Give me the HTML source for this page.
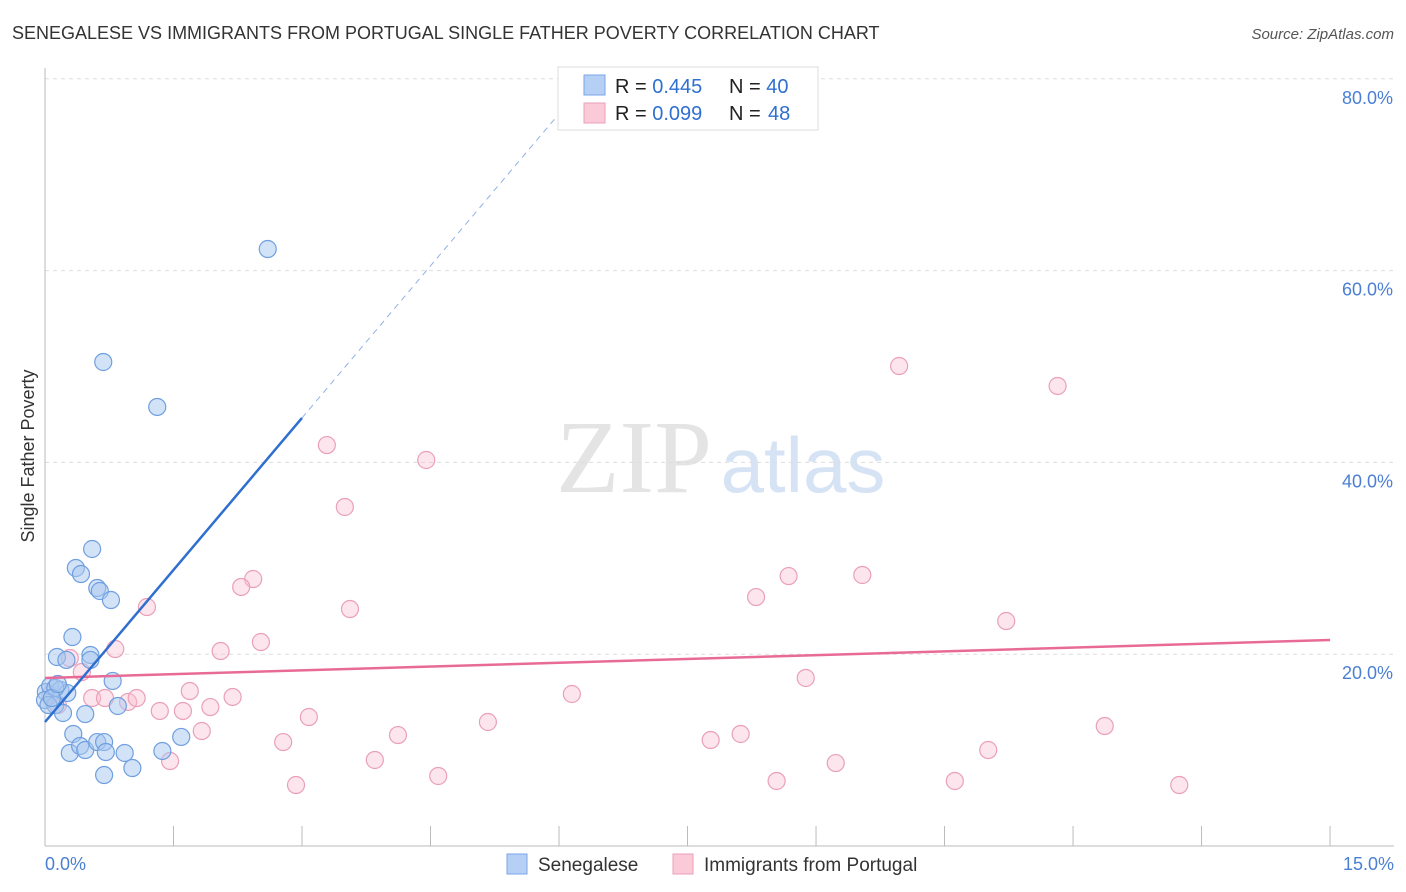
<!DOCTYPE html>
<html><head><meta charset="utf-8"><style>
body{margin:0;background:#fff;font-family:"Liberation Sans",sans-serif}
svg{display:block}
</style></head><body>
<svg width="1406" height="892">
<text x="12" y="39" font-size="18" fill="#333">SENEGALESE VS IMMIGRANTS FROM PORTUGAL SINGLE FATHER POVERTY CORRELATION CHART</text>
<text x="1394" y="39" font-size="15" fill="#555" font-style="italic" text-anchor="end">Source: ZipAtlas.com</text>
<g>
<text x="634" y="492" font-family="Liberation Serif" font-size="104" fill="#e4e4e4" text-anchor="middle">ZIP</text>
<text x="803" y="492" font-size="78" fill="#d6e3f5" text-anchor="middle">atlas</text>
</g>
<g id="grid"></g>
<g id="axes"></g>
<g id="marks"></g>
<text transform="translate(34,456) rotate(-90)" font-size="18" fill="#333" text-anchor="middle">Single Father Poverty</text>
<text x="45" y="870" font-size="18" fill="#4a7fd4">0.0%</text>
<text x="1394" y="870" font-size="18" fill="#4a7fd4" text-anchor="end">15.0%</text>
<g>
<rect x="558" y="67" width="260" height="63" fill="#fff" stroke="#ddd"/>
<rect x="584" y="75" width="21" height="20" fill="#b5cff5" stroke="#7aa6e6"/>
<rect x="584" y="103" width="21" height="20" fill="#fbcad8" stroke="#eaa0b8"/>
<text x="615" y="93" font-size="20" fill="#222">R = <tspan fill="#2f6fd0">0.445</tspan></text>
<text x="729" y="93" font-size="20" fill="#222">N = <tspan fill="#2f6fd0">40</tspan></text>
<text x="615" y="120" font-size="20" fill="#222">R = <tspan fill="#2f6fd0">0.099</tspan></text>
<text x="729" y="120" font-size="20" fill="#222">N = <tspan fill="#2f6fd0" x="768">48</tspan></text>
</g>
<g>
<rect x="507" y="854" width="20" height="20" fill="#b5cff5" stroke="#7aa6e6"/>
<text x="538" y="871" font-size="19" fill="#333">Senegalese</text>
<rect x="673" y="854" width="20" height="20" fill="#fbcad8" stroke="#eaa0b8"/>
<text x="704" y="871" font-size="19" fill="#333">Immigrants from Portugal</text>
</g>
</svg>
<script>
const yTicks=[20,40,60,80];
const yTickLabels=["20.0%","40.0%","60.0%","80.0%"];
const xTicks=[0,1.5,3,4.5,6,7.5,9,10.5,12,13.5,15];
const senX=[2.60,0.68,1.31,0.55,0.36,0.42,0.61,0.64,0.77,0.32,0.14,0.25,0.53,0.79,0.01,0.06,0.18,0.26,0.00,0.12,0.21,0.47,0.85,1.59,0.33,0.29,0.41,0.47,0.61,0.69,0.71,0.93,1.37,1.02,0.69,0.12,0.04,0.08,0.15,0.53];
const senY=[62.25,50.47,45.78,30.97,28.99,28.36,26.90,26.59,25.65,21.79,19.71,19.40,19.92,17.21,16.06,16.68,16.27,15.95,15.22,14.70,13.87,13.76,14.60,11.37,11.68,9.70,10.43,10.01,10.84,10.84,9.80,9.70,9.91,8.13,7.40,16.48,14.70,15.43,16.89,19.40];
const porX=[9.97,11.82,3.29,4.45,3.50,2.43,2.29,3.56,1.19,8.68,9.54,8.30,11.22,2.52,2.05,0.82,0.29,0.43,1.69,0.55,0.70,0.97,1.07,2.19,1.34,1.61,1.93,6.15,8.88,1.83,3.08,5.17,12.37,2.78,4.12,7.77,8.12,11.01,3.85,1.46,9.23,4.59,2.93,8.54,10.62,13.24,0.15,0.06];
const porY=[50.05,47.97,41.81,40.25,35.35,27.84,27.01,24.71,24.92,28.15,28.26,25.96,23.46,21.27,20.33,20.54,19.60,18.14,16.16,15.43,15.43,15.02,15.43,15.54,14.08,14.08,14.49,15.85,17.52,11.99,13.45,12.93,12.51,10.84,11.57,11.05,11.68,10.01,8.97,8.86,8.65,7.30,6.36,6.78,6.78,6.36,14.70,15.75];
const senTrend=[12.93,10.57]; // intercept, slope
const porTrend=[17.52,0.264];
const NS="http://www.w3.org/2000/svg";
const X=v=>45+v*85.67, Y=v=>846-v*9.59;
function mk(t,a,p){const e=document.createElementNS(NS,t);for(const k in a)e.setAttribute(k,a[k]);p.appendChild(e);return e;}
const grid=document.getElementById('grid'),axes=document.getElementById('axes'),marks=document.getElementById('marks');
yTicks.forEach((t,i)=>{
 const l=mk('line',{x1:45,x2:1394,y1:Y(t),y2:Y(t),stroke:'#ddd','stroke-dasharray':'4,4'},grid);
 
 
 const tx=mk('text',{x:1393,y:Y(t)+25,'font-size':18,fill:'#4a7fd4','text-anchor':'end'},grid);
 tx.textContent=yTickLabels[i];
 
 
});
let a=mk('line',{x1:45,x2:45,y1:68,y2:846,stroke:'#bbb'},axes);


a=mk('line',{x1:45,x2:1394,y1:846,y2:846,stroke:'#bbb'},axes);


xTicks.forEach(t=>{const l=mk('line',{x1:X(t),x2:X(t),y1:826,y2:846,stroke:'#bbb'},axes);
 
 });
function pts(xs,ys,fill,stroke,name){xs.forEach((x,i)=>{const c=mk('circle',{cx:X(x),cy:Y(ys[i]),r:8.5,fill:fill,stroke:stroke,'stroke-width':1.2},marks);
 
 });}
pts(porX,porY,'rgba(248,190,208,0.4)','#eaa0b8','portugal-point');
pts(senX,senY,'rgba(168,199,240,0.5)','#6f9fe0','senegalese-point');
let t=mk('line',{x1:X(0),y1:Y(porTrend[0]),x2:X(15),y2:Y(porTrend[0]+porTrend[1]*15),stroke:'#e86b97','stroke-width':2.5},marks);


t=mk('line',{x1:X(0),y1:Y(senTrend[0]),x2:X(3),y2:Y(senTrend[0]+senTrend[1]*3),stroke:'#2f6fd0','stroke-width':2.5},marks);


const xe=(80-senTrend[0])/senTrend[1];
t=mk('line',{x1:X(3),y1:Y(senTrend[0]+senTrend[1]*3),x2:X(xe),y2:Y(80),stroke:'#8fb2e8','stroke-width':1,'stroke-dasharray':'6,5'},marks);


</script>
</body></html>
